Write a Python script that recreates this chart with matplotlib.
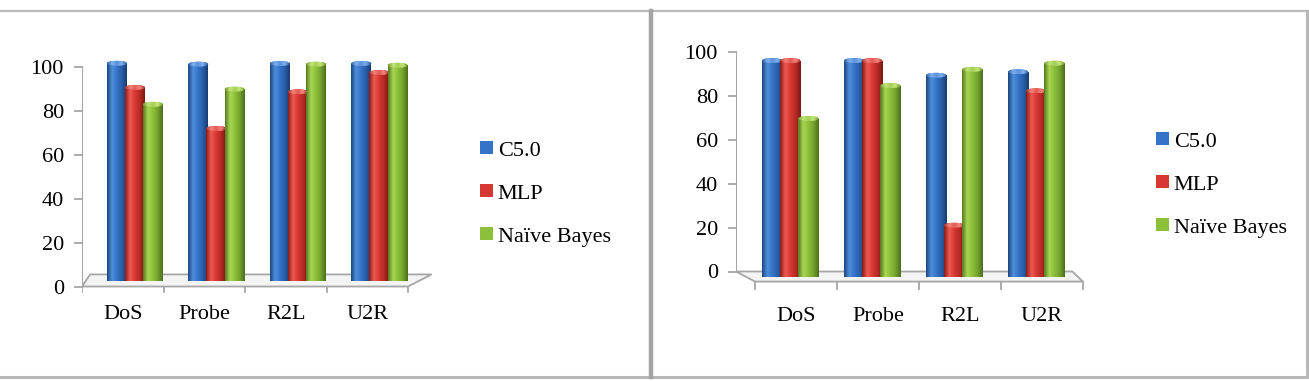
import numpy as np
import matplotlib
matplotlib.use('Agg')
import matplotlib.pyplot as plt
from matplotlib.colors import LinearSegmentedColormap
from matplotlib.patches import Ellipse, Polygon
from matplotlib.lines import Line2D

categories = ['DoS', 'Probe', 'R2L', 'U2R']
series = ['C5.0', 'MLP', 'Naïve Bayes']
yticks = [0, 20, 40, 60, 80, 100]

# left chart
left_c50 = [99.2, 98.8, 99.1, 99.1]
left_mlp = [88.2, 69.5, 86.2, 95.0]
left_nb = [80.5, 87.4, 98.8, 98.3]

# right chart
right_c50 = [98.4, 98.4, 91.7, 93.3]
right_mlp = [98.4, 98.4, 23.4, 84.6]
right_nb = [72.0, 87.0, 94.4, 97.2]

W, H = 1309, 381
plt.rcParams['font.family'] = ['Liberation Serif', 'DejaVu Serif']
plt.rcParams['font.size'] = 16

# cylinder shading: dark edge, highlight, base, dark edge
shades = [
    ['#1b467f', '#4f8fdc', '#3573c8', '#2a5ea8', '#173d70'],
    ['#8a1c19', '#ee5a52', '#d83833', '#b62a26', '#7c1815'],
    ['#557a22', '#a9d652', '#8cbf3a', '#74a22d', '#4c6e1d'],
]
cap_shades = [
    ['#2d5fa3', '#7fb1ee', '#5a93dc'],
    ['#a8302b', '#f5857c', '#e05a52'],
    ['#6e9a2e', '#c4e57a', '#a3cf55'],
]
base = ['#3573c8', '#d83833', '#8cbf3a']
cmaps = [LinearSegmentedColormap.from_list('c%d' % i, s) for i, s in enumerate(shades)]
cap_cmaps = [LinearSegmentedColormap.from_list('k%d' % i, s + s[-2::-1]) for i, s in enumerate(cap_shades)]
grad = np.linspace(0, 1, 64).reshape(1, -1)

fig = plt.figure(figsize=(W / 100, H / 100), dpi=100)


def add_axes(xlim, ylim, xp0, ux, yp0, uy):
    left = xp0 + xlim[0] * ux
    right = xp0 + xlim[1] * ux
    top = yp0 - ylim[1] * uy
    bottom = yp0 - ylim[0] * uy
    ax = fig.add_axes([left / W, 1 - bottom / H, (right - left) / W, (bottom - top) / H])
    ax.set_xlim(xlim)
    ax.set_ylim(ylim)
    return ax


def draw_panel(ax, vals, lift, shift, uy, floor, ticks_y, axis_x, label_pad):
    width, step, cap_h = 0.245, 0.222, 5 / uy
    x = np.arange(len(categories))
    gray = '#a6a6a6'

    ax.add_patch(Polygon(floor, closed=True, facecolor='#f4f4f4', edgecolor=gray,
                         linewidth=1.3, zorder=1))
    for b in np.arange(-0.5, len(categories), 1.0):
        ax.plot([b, b], ticks_y, color=gray, linewidth=1.3, zorder=1)
    ax.plot([axis_x, axis_x], [0, 100], color=gray, linewidth=1.5, zorder=1)

    for j, (name, v) in enumerate(zip(series, vals)):
        bars = ax.bar(x + shift + (j - 1) * step, v, width, bottom=lift, color=base[j],
                      label=name, linewidth=0, zorder=3 + j)
        for bar in bars:
            x0, y0 = bar.get_x(), bar.get_y()
            x1, y1 = x0 + bar.get_width(), y0 + bar.get_height()
            im = ax.imshow(grad, cmap=cmaps[j], extent=(x0, x1, y0, y1), aspect='auto',
                           interpolation='bilinear', zorder=3 + j)
            im.set_clip_path(bar)
            cap = Ellipse(((x0 + x1) / 2, y1), width, cap_h, facecolor=base[j],
                          linewidth=0, zorder=3.5 + j)
            ax.add_patch(cap)
            im2 = ax.imshow(grad, cmap=cap_cmaps[j],
                            extent=(x0, x1, y1 - cap_h / 2, y1 + cap_h / 2), aspect='auto',
                            interpolation='bilinear', zorder=3.5 + j)
            im2.set_clip_path(cap)

    for s in ax.spines.values():
        s.set_visible(False)
    ax.set_yticks(yticks)
    ax.tick_params(axis='y', length=6, width=1.3, color=gray, pad=7)
    ax.set_xticks(x)
    ax.set_xticklabels(categories)
    ax.tick_params(axis='x', length=0, pad=label_pad)
    ax.patch.set_visible(False)


legend_kw = dict(bbox_transform=fig.transFigure, loc='center left', frameon=False,
                 borderpad=0, borderaxespad=0, handlelength=0.6, handleheight=0.5,
                 handletextpad=0.2, labelspacing=1.07, fontsize=16)

# left panel
uy = 2.195
xl, yl = (-0.5, 3.85), (-6, 106)
axl = add_axes(xl, yl, 122.75, 81.5, 286.5, uy)
draw_panel(axl, [left_c50, left_mlp, left_nb], lift=2.5, shift=0.15, uy=uy,
           floor=[(-0.5, 0), (3.5, 0), (3.79, 5.5), (-0.40, 5.5)],
           ticks_y=[0, -2.7], axis_x=-0.5, label_pad=4)
axl.set_xlim(xl)
axl.set_ylim(yl)
axl.legend(bbox_to_anchor=(480 / W, 1 - 194 / H), **legend_kw)

# right panel
xr, yr = (-0.732, 3.55), (-9, 106)
axr = add_axes(xr, yr, 796, 82, 271.5, uy)
draw_panel(axr, [right_c50, right_mlp, right_nb], lift=-2.3, shift=-0.07, uy=uy,
           floor=[(-0.732, 0), (3.37, 0), (3.5, -4.6), (-0.5, -4.6)],
           ticks_y=[-4.6, -8.2], axis_x=-0.732, label_pad=11)
axr.set_xlim(xr)
axr.set_ylim(yr)
axr.legend(bbox_to_anchor=(1156 / W, 1 - 185 / H), **legend_kw)

# panel frames
frame = '#b8b8b8'
fig.add_artist(Line2D([0, 1], [1 - 11 / H, 1 - 11 / H], color=frame, linewidth=1.6))
fig.add_artist(Line2D([0, 1], [1 - 376.5 / H, 1 - 376.5 / H], color=frame, linewidth=2.2))
fig.add_artist(Line2D([650.5 / W, 650.5 / W], [1 - 376.5 / H, 1 - 11 / H], color='#a4a4a4', linewidth=3.2))
fig.add_artist(Line2D([1306.5 / W, 1306.5 / W], [1 - 376.5 / H, 1 - 11 / H], color=frame, linewidth=2.2))

fig.savefig('out.png', dpi=100)
